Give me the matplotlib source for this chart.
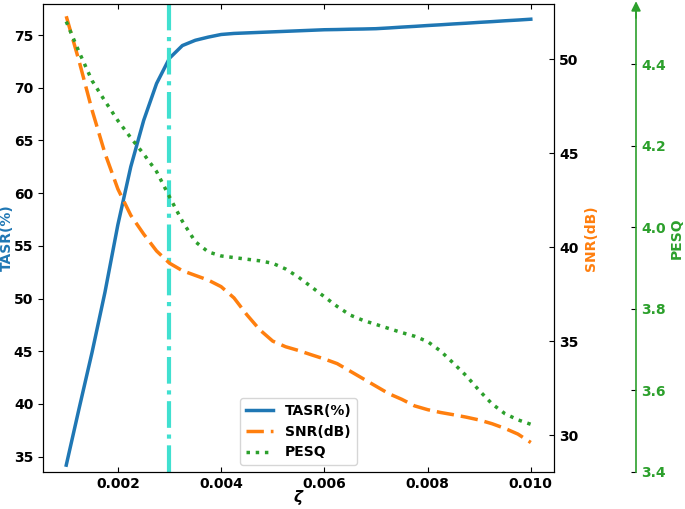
import matplotlib
matplotlib.use("Agg")
import matplotlib.pyplot as plt

plt.rcParams["font.weight"] = "bold"
plt.rcParams["axes.labelweight"] = "bold"

# zeta values (x)
zeta = [0.001, 0.00125, 0.0015, 0.00175, 0.002, 0.00225, 0.0025, 0.00275,
        0.003, 0.00325, 0.0035, 0.00375, 0.004, 0.00425, 0.0045, 0.00475,
        0.005, 0.00525, 0.0055, 0.00575, 0.006, 0.00625, 0.0065, 0.00675,
        0.007, 0.00725, 0.0075, 0.00775, 0.008, 0.00825, 0.0085, 0.00875,
        0.009, 0.00925, 0.0095, 0.00975, 0.010]

tasr = [34.2, 39.6, 44.9, 50.6, 57.0, 62.5, 66.9, 70.4,
        72.8, 74.0, 74.5, 74.8, 75.05, 75.15, 75.2, 75.25,
        75.3, 75.35, 75.4, 75.45, 75.5, 75.52, 75.55, 75.57,
        75.6, 75.67, 75.75, 75.82, 75.9, 75.97, 76.05, 76.12,
        76.2, 76.27, 76.35, 76.42, 76.5]

snr = [52.3, 49.9, 47.3, 45.0, 43.1, 41.7, 40.7, 39.8,
       39.15, 38.75, 38.5, 38.25, 37.9, 37.3, 36.4, 35.6,
       35.0, 34.7, 34.5, 34.27, 34.05, 33.8, 33.4, 33.0,
       32.6, 32.2, 31.9, 31.55, 31.35, 31.2, 31.08, 30.95,
       30.8, 30.6, 30.35, 30.05, 29.6]

pesq = [4.505, 4.43, 4.36, 4.31, 4.262, 4.22, 4.18, 4.137,
        4.075, 4.015, 3.965, 3.94, 3.93, 3.926, 3.922, 3.918,
        3.912, 3.898, 3.878, 3.854, 3.83, 3.806, 3.785, 3.772,
        3.762, 3.752, 3.742, 3.733, 3.72, 3.697, 3.667, 3.636,
        3.6, 3.567, 3.543, 3.528, 3.517]

zeta_opt = 0.003

fig = plt.figure(figsize=(6.85, 5.09), dpi=100)
ax = fig.add_axes([0.0628, 0.0727, 0.746, 0.9194])
ax2 = ax.twinx()
ax3 = ax.twinx()

l1, = ax.plot(zeta, tasr, color="tab:blue", lw=2.5, label="TASR(%)")
l2, = ax2.plot(zeta, snr, color="tab:orange", lw=2.5, ls=(0, (5, 2)), label="SNR(dB)")
l3, = ax3.plot(zeta, pesq, color="tab:green", lw=2.5, ls=":", label="PESQ")
ax.axvline(zeta_opt, color="#40E0D0", lw=3, ls="-.")

ax.set_ylim(33.55, 77.94)
ax2.set_ylim(28.03, 52.95)
ax3.set_ylim(3.4, 4.548)

ax.set_xlabel(r"$\zeta$", fontsize=11, labelpad=-2)
ax.set_ylabel("TASR(%)", color="tab:blue", fontsize=10, labelpad=0)
ax2.set_ylabel("SNR(dB)", color="tab:orange", fontsize=10, labelpad=4)
ax3.set_ylabel("PESQ", color="tab:green", fontsize=10, labelpad=3)

ax.tick_params(axis="y", direction="out", labelsize=10)
ax.tick_params(axis="x", direction="in", top=True, labelsize=10)
ax2.tick_params(axis="y", direction="in", labelsize=10)
ax3.tick_params(axis="y", direction="in", labelsize=10, labelcolor="tab:green")

# third axis: only the offset right spine, green with arrow
xpos = (636 - 43) / (554 - 43)
for side in ("left", "top", "bottom"):
    ax3.spines[side].set_visible(False)
ax3.spines["right"].set_position(("axes", xpos))
ax3.spines["right"].set_color("tab:green")
ax3.spines["right"].set_linewidth(1.2)
ax3.annotate("", xy=(xpos, 1.006), xytext=(xpos, 0.97), xycoords="axes fraction",
             arrowprops=dict(arrowstyle="-|>", color="tab:green", lw=1.2,
                             mutation_scale=14, shrinkA=0, shrinkB=0))

ax3.legend(handles=[l1, l2, l3], loc="lower center", prop={"weight": "bold", "size": 10})

fig.savefig("out.png", dpi=100)
